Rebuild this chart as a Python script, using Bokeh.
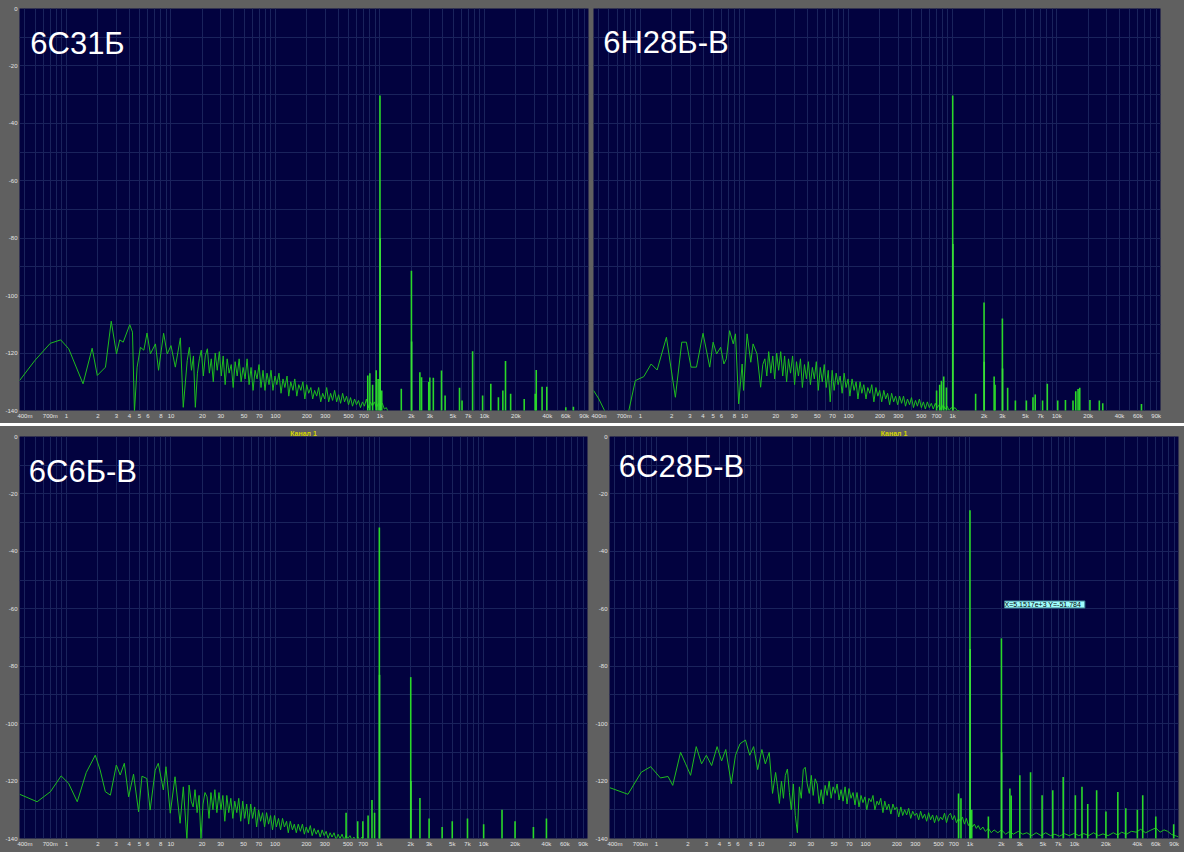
from bokeh.plotting import figure
from bokeh.models import FixedTicker, Label, Range1d, ColumnDataSource
from bokeh.layouts import column, row
from bokeh.embed import file_html
from bokeh.resources import INLINE

# ---------------- axis data ----------------
F_MIN, F_MAX = 0.355, 99000
x_tick_vals = [0.4, 0.7, 1, 2, 3, 4, 5, 6, 8, 10, 20, 30, 50, 70, 100, 200, 300, 500, 700,
               1000, 2000, 3000, 5000, 7000, 10000, 20000, 40000, 60000, 90000]
x_tick_text = ["400m", "700m", "1", "2", "3", "4", "5", "6", "8", "10", "20", "30", "50", "70",
               "100", "200", "300", "500", "700", "1k", "2k", "3k", "5k", "7k", "10k", "20k",
               "40k", "60k", "90k"]
y_tick_vals = [0, -20, -40, -60, -80, -100, -120, -140]
y_tick_text = ["0", "-20", "-40", "-60", "-80", "-100", "-120", "-140"]
y_minor_vals = [-10, -30, -50, -70, -90, -110, -130]

# frequencies (Hz) of the dense part of every spectrum
dense_f = [15, 15.7, 16.4, 17.1, 17.9, 18.7, 19.5, 20.4, 21.3, 22.3, 23.3, 24.3, 25.4, 26.5, 27.7,
           29, 30.3, 31.6, 33, 34.5, 36, 37.7, 39.4, 41.1, 43, 44.9, 46.9, 49, 51.2, 53.5, 55.9,
           58.4, 61, 63.8, 66.6, 69.6, 72.7, 76, 79.4, 83, 86.7, 90.6, 94.6, 98.9, 103, 108, 113,
           118, 123, 129, 134, 140, 147, 153, 160, 167, 175, 183, 191, 199, 208, 218, 227, 237,
           248, 259, 271, 283, 296, 309, 323, 337, 352, 368, 385, 402, 420, 439, 458, 479, 500,
           523, 546, 571, 596, 623, 651, 680, 710, 742, 776, 810, 847, 885, 924, 966, 1009, 1054,
           1101, 1150, 1200]

# ---------------- panel 1: 6С31Б ----------------
tl_title = "6С31Б"
tl_low_f = [0.355, 0.50, 0.70, 0.88, 1.05, 1.44, 1.76, 1.97, 2.36, 2.68, 3.01, 3.23, 3.49, 4.03,
            4.28, 4.47, 4.74, 5.1, 5.5, 5.9, 6.35, 7.1, 7.6, 8.5, 9.2, 10.0, 11.0, 12.3, 13.1,
            14.3]
tl_low_db = [-129.6, -122.5, -116.6, -115.4, -118.5, -130.7, -118.3, -127.8, -124.9, -108.9,
             -120.3, -115.4, -116.2, -110.1, -112.7, -140.5, -124.9, -118, -119, -113, -120.3,
             -116.8, -126, -113.1, -120.3, -117.4, -124.9, -114.7, -138.9, -122.6]
tl_dense_db = [-118, -126, -121, -138.9, -127, -122, -119, -128, -121, -118.5, -127, -122, -130,
               -120, -126, -119.5, -128, -121, -131, -122, -127, -124, -132, -123, -128, -122,
               -130, -125, -129, -122, -131, -125, -133, -126, -129, -124, -132, -126, -133, -127,
               -131, -126, -133, -128, -131, -127, -134, -129, -132, -128, -135, -130, -133, -129,
               -135, -131, -133, -130, -136, -131, -134, -132, -136, -133, -135, -132, -137, -134,
               -136, -132, -137, -134, -136.5, -133, -137, -134.5, -137.5, -134, -137, -135, -138,
               -135.5, -138.5, -136, -138, -136.5, -139, -137, -138.5, -136, -139, -137, -138.5,
               -137, -139, -137.5, -138.5, -137.5, -139.5, -139, -140.5]
tl_spike_f = [764, 800, 850, 920, 960, 1000, 1040, 1600, 2000, 2410, 2500, 2930, 3000, 3240,
              3880, 4200, 5770, 6100, 7700, 9600, 11500, 13600, 15000, 15900, 17800, 24000,
              30600, 31300, 35600, 39500, 60000, 71000]
tl_spike_db = [-127.8, -127, -131, -126, -129, -30.3, -133, -132.4, -91.3, -126.7, -128.4, -130.1,
               -128.5, -128.6, -126.1, -134.8, -132.1, -136.5, -119.4, -134.8, -130.7, -135.4,
               -133, -122.8, -134.2, -136, -134.2, -125.9, -131.7, -131.7, -138.9, -138.7]
tl_shoulder_f = [1000, 2000]
tl_shoulder_db = [-80, -116]

# ---------------- panel 2: 6Н28Б-В ----------------
tr_title = "6Н28Б-В"
tr_low_f = [0.355, 0.40, 0.46, 0.77, 0.895, 1.08, 1.27, 1.45, 1.78, 2.17, 2.5, 2.77, 3.07, 3.46,
            4.0, 4.64, 5.0, 5.4, 5.9, 6.35, 6.7, 7.2, 7.8, 8.2, 8.8, 9.5, 9.8, 10.6, 11.5, 12.1,
            13.2, 14.3]
tr_low_db = [-133, -136, -140.5, -140.5, -129.6, -128.2, -123.8, -125.9, -114.5, -135.4, -116.2,
             -116.2, -124.9, -124.9, -113.1, -124.9, -116.2, -120.3, -118, -123.8, -122, -112.2,
             -116.8, -113.3, -137.7, -123.8, -133, -113.3, -123.2, -116.8, -120.3, -131.9]
tr_dense_db = [-124, -122, -128, -119.5, -127, -121, -129, -120, -126, -119.5, -128, -121, -130,
               -122, -127, -121, -131, -123, -128, -122, -132, -124, -129, -123, -131, -125, -129,
               -123, -133, -125, -130, -124, -132, -126, -137, -126, -133, -127, -131, -128, -134,
               -127, -132, -129, -135, -129, -133, -130, -136, -130, -134, -131, -136, -132, -134,
               -131, -137, -132, -135, -133, -137, -133, -136, -134, -138, -134, -137, -135, -138,
               -135, -137.5, -135, -138.5, -136, -138, -135.5, -139, -136.5, -138.5, -136, -139,
               -137, -139.5, -137, -139, -137.5, -139.5, -137.5, -139, -138, -140, -138, -139.5,
               -138.5, -140, -139, -139.5, -139, -140, -140, -141]
tr_spike_f = [700, 750, 780, 820, 870, 1000, 1660, 2000, 2500, 2550, 3000, 3370, 4000, 5100, 5900,
              6200, 7300, 8100, 10200, 12100, 14300, 15200, 16000, 16600, 20800, 25600, 27600,
              65000]
tr_spike_db = [-133, -131, -129.6, -128.2, -132, -30.3, -134.2, -102.4, -128.2, -131, -108, -132.1,
               -136.5, -136.5, -135.4, -134.4, -136.5, -130.7, -136.5, -136.3, -136.5, -133.3,
               -132.5, -132.1, -136.3, -136.5, -137.5, -137.7]
tr_shoulder_f = [1000, 2000, 3000]
tr_shoulder_db = [-82, -123, -125.4]

# ---------------- panel 3: 6С6Б-В ----------------
bl_title = "6С6Б-В"
bl_low_f = [0.356, 0.524, 0.703, 0.89, 1.05, 1.27, 1.55, 1.89, 2.1, 2.36, 2.64, 3.01, 3.28, 3.59,
            3.95, 4.4, 4.92, 5.3, 5.9, 6.35, 7.1, 7.6, 8.5, 9.0, 9.9, 11, 12.3, 13.2, 14.3]
bl_low_db = [-124.6, -127.2, -123.7, -118.2, -120.8, -127.2, -117, -111, -116, -123.7, -124.9,
             -114.4, -117.9, -113.8, -125.5, -117.6, -130.7, -118.3, -119.1, -130.1, -116.2,
             -113.8, -123.1, -115, -131.2, -118.5, -134.7, -122, -140.5]
bl_dense_db = [-121.4, -127, -129, -123, -131, -125, -140.5, -128, -124, -125.5, -133, -124, -130,
               -123, -131, -124, -130, -125, -134, -125, -131, -126, -133, -127, -131, -126, -134,
               -127, -133, -128, -135, -128, -133, -129, -136, -130, -134, -131, -136, -131, -135,
               -132, -137, -132, -136, -133, -137, -133, -136, -134, -138, -134, -137, -135, -138,
               -135, -137.5, -135, -138.5, -136, -138, -135.5, -139, -136.5, -138.5, -137, -139.5,
               -137, -139, -137.5, -140, -138, -139.5, -138, -140.5, -138.5, -140, -138.5, -140.5,
               -139, -140, -139, -140.5, -139.5, -141, -139.5, -140.5, -139.5, -141, -140, -141,
               -140, -141, -140.5, -141, -140.5, -141, -141, -141.5, -141.5, -142]
bl_spike_f = [480, 620, 695, 780, 850, 900, 1000, 2000, 2450, 3000, 4000, 5000, 7000, 10000,
              15000, 20000, 30000, 40000]
bl_spike_db = [-131, -134, -134, -132, -126.6, -131, -31.7, -83.8, -125.9, -133, -136, -134, -133,
               -135, -130, -134, -136, -133]
bl_shoulder_f = [1000, 2000]
bl_shoulder_db = [-83, -120]

# ---------------- panel 4: 6С28Б-В ----------------
br_title = "6С28Б-В"
br_low_f = [0.357, 0.533, 0.716, 0.88, 1.09, 1.29, 1.43, 1.7, 1.9, 2.12, 2.4, 2.7, 3.0, 3.37, 3.8,
            4.2, 4.6, 5.2, 5.7, 6.3, 7.1, 7.8, 8.5, 9.3, 10.2, 11, 12, 12.9, 13.8, 14.4]
br_low_db = [-122.3, -124.6, -116.9, -115, -118.9, -118.4, -121.5, -110, -114, -118, -108, -114,
             -111, -114.6, -108, -113, -109, -120.9, -111, -107, -105.7, -111, -108, -116, -109,
             -114, -110, -124.3, -117, -122]
br_dense_db = [-127.8, -120, -126, -118, -115.8, -124, -130, -121, -132, -138, -122, -126, -116,
               -115.2, -121, -124.3, -118, -125, -119.2, -121, -127.8, -123, -128, -121.5, -125,
               -120, -126, -122, -124.3, -121, -126.6, -123, -127, -122, -128, -122.6, -126, -124,
               -128.3, -124, -129, -125, -127.5, -125.5, -130, -126, -127.2, -125, -130, -127,
               -128.3, -126, -131, -127, -130, -128, -131.5, -128, -130, -129, -132.5, -129, -132,
               -130, -131.8, -129.5, -133, -130.5, -132, -131.2, -133.5, -130.5, -133, -131.5,
               -134, -131, -133.5, -131.8, -134.5, -132, -134, -132.5, -133.5, -131.2, -134.5,
               -132, -131.2, -133.5, -132, -134.5, -133, -134, -132.5, -135, -133, -135.5, -134,
               -136, -135, -136.5, -135.5]
br_high_f = [1260, 1330, 1400, 1500, 1600, 1700, 1850, 2000, 2200, 2400, 2600, 2900, 3200, 3500,
             3900, 4300, 4800, 5300, 5900, 6500, 7200, 8000, 8900, 10000, 11000, 12300, 13700,
             15200, 17000, 18700, 21000, 23500, 26000, 28300, 31500, 35000, 39000, 43000, 48000,
             53000, 60000, 66000, 72000, 78000, 85000, 95000, 99000]
br_high_db = [-137, -136, -137.5, -136.5, -138, -137, -138, -137, -138.5, -137.5, -138.5, -137.5,
              -138.5, -138, -139, -138, -139, -138, -139, -138.5, -139.2, -138.3, -139, -138.2,
              -139, -138.3, -139, -138, -139, -138.4, -139, -138, -138.8, -137.8, -138.5, -137.5,
              -137.8, -136.8, -138, -137.2, -136.3, -137.8, -137, -137.5, -138.6, -139.2, -139.5]
br_spike_f = [777, 820, 1000, 1040, 1500, 2000, 2410, 2480, 3000, 3800, 4900, 6200, 7800, 10200,
              11800, 13400, 16300, 20000, 26000, 31000, 40000, 45000, 60000, 89000]
br_spike_db = [-124.3, -126, -25.7, -130, -132.3, -70.3, -122.6, -125, -118, -116.9, -124.9,
               -123.2, -118.6, -124.9, -122, -128, -123.2, -130.6, -123.8, -129.5, -130, -124.9,
               -132.3, -135]
br_shoulder_f = [1000, 2000]
br_shoulder_db = [-74, -110]
br_cursor_text = "X=5.1517e+3   Y=-51.784"

# ---------------- styling ----------------
BG = "#02023f"
FRAME = "#606060"
GRID = "#1a235c"
LINE = "#1fbd1f"
SPIKE = "#2ad82a"
FONT = "Liberation Sans"

x_minor_vals = []
for k in range(-1, 5):
    for d in range(1, 10):
        v = d * 10 ** k
        if F_MIN <= v <= F_MAX and v not in x_tick_vals:
            x_minor_vals.append(v)


def panel(width, height, bl, br, bt, bb, show_y=True, channel=False):
    p = figure(width=width, height=height, x_axis_type="log",
               x_range=Range1d(F_MIN, F_MAX), y_range=Range1d(-140, 0),
               output_backend="svg", toolbar_location=None,
               min_border_left=bl, min_border_right=br, min_border_top=bt, min_border_bottom=bb,
               background_fill_color=BG, border_fill_color=FRAME)
    p.outline_line_color = None
    if channel:
        p.title.text = "Канал 1"
        p.title.align = "center"
        p.title.text_color = "#d6d600"
        p.title.text_font_size = "7px"
        p.title.text_font = FONT
        p.title.standoff = 0
        p.title.offset = 0
    p.xaxis.ticker = FixedTicker(ticks=x_tick_vals, minor_ticks=x_minor_vals)
    p.xaxis.major_label_overrides = {v: t for v, t in zip(x_tick_vals, x_tick_text)}
    p.yaxis.ticker = FixedTicker(ticks=y_tick_vals, minor_ticks=y_minor_vals)
    p.yaxis.major_label_overrides = {v: t for v, t in zip(y_tick_vals, y_tick_text)}
    for ax in (p.xaxis, p.yaxis):
        ax.axis_line_color = None
        ax.major_tick_line_color = None
        ax.minor_tick_line_color = None
        ax.major_tick_out = 0
        ax.minor_tick_out = 0
        ax.major_tick_in = 0
        ax.minor_tick_in = 0
        ax.major_label_text_font_size = "6px"
        ax.major_label_text_color = "#e4e4e4"
        ax.major_label_text_font = FONT
        ax.major_label_standoff = 2
    if not show_y:
        p.yaxis.visible = False
    for g in (p.xgrid, p.ygrid):
        g.grid_line_color = GRID
        g.minor_grid_line_color = GRID
        g.grid_line_width = 1
        g.minor_grid_line_width = 1
    return p


def draw(p, nf, nd, sf, sd, hf, hd, title, tx, ty):
    p.line(nf, nd, line_color=LINE, line_width=1)
    src = ColumnDataSource(dict(f=sf, db=sd))
    p.segment(x0="f", y0=-141, x1="f", y1="db", source=src, line_color=SPIKE, line_width=1.6)
    src2 = ColumnDataSource(dict(f=[v * 1.004 for v in hf], db=hd))
    p.segment(x0="f", y0=-141, x1="f", y1="db", source=src2, line_color="#39e039", line_width=1.6)
    p.add_layout(Label(x=tx, y=ty, text=title, text_color="white", text_font_size="31px",
                       text_font=FONT, text_baseline="alphabetic"))


# canvas origin is the page's top-left corner
TOP_H, BOT_H = 423, 426

p1 = panel(591, TOP_H, 19, 3, 8, 13)
draw(p1, tl_low_f + dense_f, tl_low_db + tl_dense_db, tl_spike_f, tl_spike_db,
     tl_shoulder_f, tl_shoulder_db, tl_title, 0.45, -12.3)

p2 = panel(593, TOP_H, 2, 24, 8, 13, show_y=False)
draw(p2, tr_low_f + dense_f, tr_low_db + tr_dense_db, tr_spike_f, tr_spike_db,
     tr_shoulder_f, tr_shoulder_db, tr_title, 0.44, -11.7)

p3 = panel(591, BOT_H, 19, 4, 10, 14, channel=True)
draw(p3, bl_low_f + dense_f, bl_low_db + bl_dense_db, bl_spike_f, bl_spike_db,
     bl_shoulder_f, bl_shoulder_db, bl_title, 0.436, -12.1)

p4 = panel(593, BOT_H, 18, 6, 10, 14, channel=True)
draw(p4, br_low_f + dense_f + br_high_f, br_low_db + br_dense_db + br_high_db, br_spike_f,
     br_spike_db, br_shoulder_f, br_shoulder_db, br_title, 0.436, -10.4)
p4.add_layout(Label(x=2140, y=-58.5, text=br_cursor_text, text_color="#000000",
                    text_font_size="7px", text_font=FONT, background_fill_color="#9ffcfc",
                    border_line_color="#3a7f8f", text_baseline="middle"))

top_row = row(p1, p2, spacing=0, styles={"background-color": FRAME})
bottom_row = row(p3, p4, spacing=0, styles={"background-color": FRAME})
layout = column(top_row, bottom_row, spacing=3)

open("out.html", "w").write(file_html(layout, INLINE))
